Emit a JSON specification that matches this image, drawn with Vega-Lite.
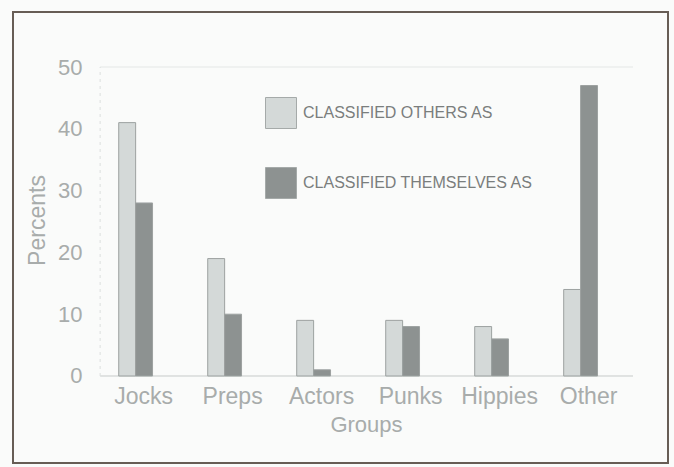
{
  "$schema": "https://vega.github.io/schema/vega-lite/v6.json",
  "autosize": "none",
  "width": 655,
  "height": 451,
  "padding": {"left": 13, "top": 12, "right": 6, "bottom": 4},
  "background": "#fafbfa",
  "data": {
    "values": [
      {"group": "Jocks", "series": "CLASSIFIED OTHERS AS", "pct": 41},
      {"group": "Jocks", "series": "CLASSIFIED THEMSELVES AS", "pct": 28},
      {"group": "Preps", "series": "CLASSIFIED OTHERS AS", "pct": 19},
      {"group": "Preps", "series": "CLASSIFIED THEMSELVES AS", "pct": 10},
      {"group": "Actors", "series": "CLASSIFIED OTHERS AS", "pct": 9},
      {"group": "Actors", "series": "CLASSIFIED THEMSELVES AS", "pct": 1},
      {"group": "Punks", "series": "CLASSIFIED OTHERS AS", "pct": 9},
      {"group": "Punks", "series": "CLASSIFIED THEMSELVES AS", "pct": 8},
      {"group": "Hippies", "series": "CLASSIFIED OTHERS AS", "pct": 8},
      {"group": "Hippies", "series": "CLASSIFIED THEMSELVES AS", "pct": 6},
      {"group": "Other", "series": "CLASSIFIED OTHERS AS", "pct": 14},
      {"group": "Other", "series": "CLASSIFIED THEMSELVES AS", "pct": 47}
    ]
  },
  "layer": [
    {
      "data": {"values": [{"level": 50, "kind": "grid"}, {"level": 0, "kind": "base"}]},
      "mark": {"type": "rule", "strokeWidth": 1},
      "encoding": {
        "y": {"field": "level", "type": "quantitative"},
        "x": {"datum": "Jocks", "type": "nominal", "bandPosition": -0.55},
        "x2": {"datum": "Other", "bandPosition": 2.05},
        "stroke": {
          "field": "kind",
          "type": "nominal",
          "scale": {"domain": ["grid", "base"], "range": ["#e4e7e6", "#c6cac9"]},
          "legend": null
        }
      }
    },
    {
      "data": {"values": [{"lo": 0, "hi": 50}]},
      "mark": {"type": "rule", "strokeWidth": 1, "stroke": "#dcdfde", "strokeDash": [3, 4]},
      "encoding": {
        "x": {"datum": "Jocks", "type": "nominal", "bandPosition": -0.55},
        "y": {"field": "lo", "type": "quantitative"},
        "y2": {"field": "hi"}
      }
    },
    {
      "mark": {"type": "bar", "stroke": "#9da2a1", "strokeWidth": 1},
      "encoding": {
        "x": {
          "field": "group",
          "type": "nominal",
          "sort": ["Jocks", "Preps", "Actors", "Punks", "Hippies", "Other"],
          "scale": {"paddingInner": 0.62, "paddingOuter": 0.99, "align": 0.6},
          "axis": {
            "title": "Groups",
            "offset": -87,
            "labelAngle": 0,
            "labelAlign": "center",
            "labelBaseline": "top",
            "labelOffset": 8,
            "labelFont": "Liberation Sans",
            "labelFontSize": 23,
            "labelColor": "#a8acab",
            "labelPadding": 9,
            "titleFont": "Liberation Sans",
            "titleFontSize": 22,
            "titleFontWeight": "normal",
            "titleColor": "#a8acab",
            "titlePadding": 6,
            "titleX": 353,
            "domain": false,
            "ticks": false
          }
        },
        "xOffset": {"field": "series", "type": "nominal"},
        "y": {
          "field": "pct",
          "type": "quantitative",
          "scale": {"domain": [-14.08, 58.9], "nice": false, "zero": false},
          "axis": {
            "title": "Percents",
            "offset": -87,
            "values": [0, 10, 20, 30, 40, 50],
            "labelFont": "Liberation Sans",
            "labelFontSize": 22,
            "labelColor": "#a8acab",
            "labelPadding": 18,
            "ticks": false,
            "domain": false,
            "grid": false,
            "titleFont": "Liberation Sans",
            "titleFontSize": 23,
            "titleFontWeight": "normal",
            "titleColor": "#a8acab",
            "titlePadding": 8,
            "titleY": 208
          }
        },
        "color": {
          "field": "series",
          "type": "nominal",
          "scale": {"range": ["#d4d9d8", "#8d9291"]},
          "legend": {
            "title": null,
            "orient": "none",
            "legendX": 252,
            "legendY": 85,
            "symbolType": "square",
            "symbolSize": 961,
            "symbolStrokeColor": "#a5aaa9",
            "symbolStrokeWidth": 1,
            "symbolOpacity": 1,
            "labelFont": "Liberation Sans",
            "labelFontSize": 16,
            "labelColor": "#7a7e7d",
            "labelOffset": 6,
            "labelLimit": 400,
            "rowPadding": 34
          }
        }
      }
    }
  ],
  "config": {
    "view": {"stroke": "#675d55", "strokeWidth": 2}
  }
}
